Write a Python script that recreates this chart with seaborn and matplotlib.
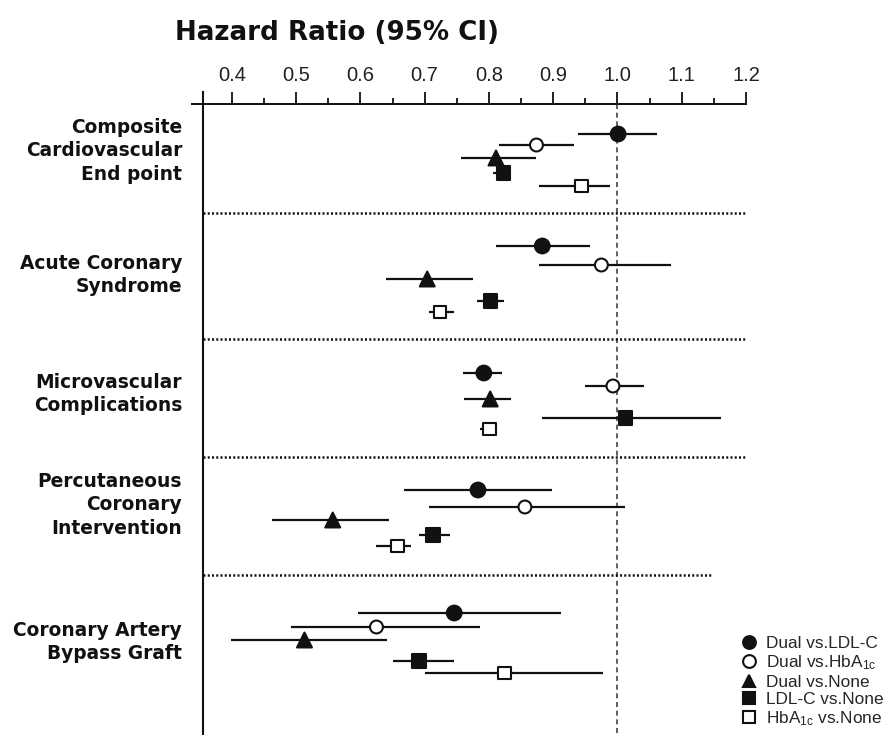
import numpy as np
import pandas as pd
import matplotlib
matplotlib.use("Agg")
import matplotlib.pyplot as plt
from matplotlib.lines import Line2D
from matplotlib.ticker import FixedLocator, FixedFormatter
import matplotlib.transforms as mtransforms
import seaborn as sns

# ---------------- data ----------------
groups = ["Composite\nCardiovascular\nEnd point",
          "Acute Coronary\nSyndrome",
          "Microvascular\nComplications",
          "Percutaneous\nCoronary\nIntervention",
          "Coronary Artery\nBypass Graft"]

comparisons = ["Dual vs.LDL-C", "Dual vs.HbA1c", "Dual vs.None",
               "LDL-C vs.None", "HbA1c vs.None"]
legend_labels = ["Dual vs.LDL-C", r"Dual vs.HbA$_{\mathrm{1c}}$", "Dual vs.None",
                 "LDL-C vs.None", r"HbA$_{\mathrm{1c}}$ vs.None"]

# hazard ratios (one value per group), lower and upper 95% CI
hr_dual_ldl = [1.001, 0.883, 0.792, 0.783, 0.746]
lo_dual_ldl = [0.939, 0.811, 0.760, 0.668, 0.597]
hi_dual_ldl = [1.062, 0.958, 0.821, 0.898, 0.912]

hr_dual_hba = [0.874, 0.975, 0.993, 0.856, 0.625]
lo_dual_hba = [0.816, 0.878, 0.950, 0.707, 0.492]
hi_dual_hba = [0.933, 1.084, 1.042, 1.012, 0.786]

hr_dual_none = [0.811, 0.704, 0.802, 0.557, 0.513]
lo_dual_none = [0.757, 0.640, 0.761, 0.463, 0.399]
hi_dual_none = [0.873, 0.775, 0.834, 0.645, 0.642]

hr_ldl_none = [0.823, 0.802, 1.012, 0.713, 0.691]
lo_ldl_none = [0.806, 0.781, 0.883, 0.691, 0.651]
hi_ldl_none = [0.835, 0.824, 1.161, 0.740, 0.745]

hr_hba_none = [0.944, 0.724, 0.801, 0.658, 0.824]
lo_hba_none = [0.878, 0.707, 0.786, 0.625, 0.701]
hi_hba_none = [0.988, 0.745, 0.813, 0.679, 0.977]

tick_values = [0.4, 0.5, 0.6, 0.7, 0.8, 0.9, 1.0, 1.1, 1.2]
tick_labels = ["0.4", "0.5", "0.6", "0.7", "0.8", "0.9", "1.0", "1.1", "1.2"]

# ---------------- layout (vertical slots, top-down) ----------------
row_y = [[134, 145, 158, 173, 186],
         [246, 265, 279, 301, 312],
         [373, 386, 399, 418, 429],
         [490, 507, 520, 535, 546],
         [613, 627, 640, 661, 673]]
label_y = [151, 275, 394, 505, 642]
sep_y = [213, 339, 457, 575]
sep_xend = [1.2, 1.2, 1.2, 1.146]

# ---------------- build table ----------------
hrs = [hr_dual_ldl, hr_dual_hba, hr_dual_none, hr_ldl_none, hr_hba_none]
los = [lo_dual_ldl, lo_dual_hba, lo_dual_none, lo_ldl_none, lo_hba_none]
his = [hi_dual_ldl, hi_dual_hba, hi_dual_none, hi_ldl_none, hi_hba_none]
rows = []
for gi, g in enumerate(groups):
    for ci, c in enumerate(comparisons):
        rows.append(dict(group=g, comparison=c, hr=hrs[ci][gi],
                         lo=los[ci][gi], hi=his[ci][gi], y=row_y[gi][ci]))
df = pd.DataFrame(rows)

# ---------------- style ----------------
sns.set_theme(style="white")
plt.rcParams["font.family"] = ["Liberation Sans", "DejaVu Sans"]
plt.rcParams["mathtext.fontset"] = "custom"
plt.rcParams["mathtext.rm"] = "Liberation Sans"
plt.rcParams["mathtext.it"] = "Liberation Sans:italic"
plt.rcParams["mathtext.bf"] = "Liberation Sans:bold"

INK = "#111111"
markers = {comparisons[0]: "o", comparisons[1]: "o", comparisons[2]: "^",
           comparisons[3]: "s", comparisons[4]: "s"}
palette = {comparisons[0]: INK, comparisons[1]: "white", comparisons[2]: INK,
           comparisons[3]: INK, comparisons[4]: "white"}
sizes = {comparisons[0]: 112, comparisons[1]: 86, comparisons[2]: 115,
         comparisons[3]: 92, comparisons[4]: 80}

W, H = 892, 735
fig = plt.figure(figsize=(W / 100, H / 100), dpi=100)
ax_left, ax_right, ax_top = 192, 746, 92
ax = fig.add_axes([ax_left / W, 0, (ax_right - ax_left) / W, 1 - ax_top / H])
ax.set_xlim(0.338, 1.2)
ax.set_ylim(H, ax_top)

# CI lines
ax.hlines(df["y"], df["lo"], df["hi"], color=INK, lw=1.6, zorder=2)

# points
sns.scatterplot(data=df, x="hr", y="y", hue="comparison", style="comparison",
                size="comparison", markers=markers, palette=palette, sizes=sizes,
                edgecolor=INK, linewidth=1.5, legend=False, ax=ax, zorder=3)

# reference line at 1.0
ax.vlines(1.0, 104, H, color="#444444", lw=1.2, linestyles=(0, (3, 2.2)), zorder=1)

# group separators
for yy, xe in zip(sep_y, sep_xend):
    ax.hlines(yy, 0.355, xe, color=INK, lw=1.8, linestyles=(0, (0.8, 0.9)), zorder=1)

# group labels
trans = mtransforms.blended_transform_factory(ax.transAxes, ax.transData)
for g, yy in zip(groups, label_y):
    ax.text(-0.018, yy, g, transform=trans, ha="right", va="center",
            multialignment="right", fontsize=13.4, fontweight="bold",
            family="DejaVu Sans", color=INK, linespacing=1.3)

# axes / ticks
ax.set_xlabel("")
ax.set_ylabel("")
ax.set_yticks([])
for s in ["right", "bottom"]:
    ax.spines[s].set_visible(False)
ax.spines["top"].set_position(("data", 104))
ax.spines["left"].set_position(("data", 0.355))
ax.spines["top"].set_linewidth(1.4)
ax.spines["left"].set_linewidth(1.5)
ax.spines["top"].set_color(INK)
ax.spines["left"].set_color(INK)
ax.xaxis.set_ticks_position("top")
ax.xaxis.set_major_locator(FixedLocator(tick_values))
ax.xaxis.set_major_formatter(FixedFormatter(tick_labels))
ax.xaxis.set_minor_locator(FixedLocator([v + 0.05 for v in tick_values[:-1]]))
ax.tick_params(axis="x", which="major", direction="out", length=8.6, width=1.3,
               color=INK, pad=5, labelsize=14.5, labelcolor="#222222")
ax.tick_params(axis="x", which="minor", direction="out", length=4.3, width=1.3,
               color=INK)

# title
fig.text(337 / W, 1 - 39.5 / H, "Hazard Ratio (95% CI)", ha="center", va="baseline",
         fontsize=18.8, fontweight="bold", family="DejaVu Sans", color=INK)

# legend
handles = []
for c in comparisons:
    handles.append(Line2D([], [], linestyle="none", marker=markers[c],
                          markerfacecolor=palette[c], markeredgecolor=INK,
                          markeredgewidth=1.5, markersize=9.2))
fig.legend(handles, legend_labels, loc="upper left",
           bbox_to_anchor=(740 / W, 1 - 636 / H), frameon=False, fontsize=12.4,
           handlelength=1.0, handletextpad=0.5, labelspacing=0.14,
           borderpad=0, borderaxespad=0)

fig.savefig("out.png", dpi=100)
